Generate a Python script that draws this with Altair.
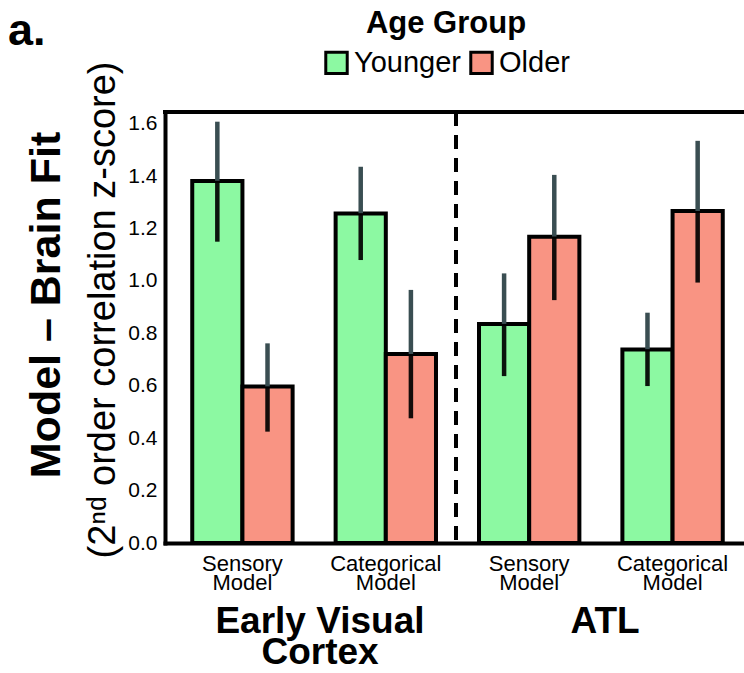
import altair as alt
import pandas as pd

# ---- data ----
regions = ["EVC", "EVC", "ATL", "ATL"]
models = ["Sensory", "Categorical", "Sensory", "Categorical"]
groups = ["Younger", "Older"]

younger_mean = [1.382, 1.258, 0.836, 0.739]
younger_lower = [1.150, 1.080, 0.637, 0.599]
younger_upper = [1.608, 1.436, 1.029, 0.879]

older_mean = [0.597, 0.721, 1.169, 1.267]
older_lower = [0.425, 0.476, 0.927, 0.994]
older_upper = [0.762, 0.966, 1.405, 1.535]

y_ticks = [0.0, 0.2, 0.4, 0.6, 0.8, 1.0, 1.2, 1.4, 1.6]
region_labels = ["Early Visual\nCortex", "ATL"]

GREEN = "#8cf9a2"
SALMON = "#f99483"
FONT = "Liberation Sans"

rows = []
for i in range(4):
    cat = f"{regions[i]}|{models[i]}"
    rows.append(dict(cat=cat, group="Younger", value=younger_mean[i],
                     lower=younger_lower[i], upper=younger_upper[i]))
    rows.append(dict(cat=cat, group="Older", value=older_mean[i],
                     lower=older_lower[i], upper=older_upper[i]))
df = pd.DataFrame(rows)
cats = [f"{r}|{m}" for r, m in zip(regions, models)]

W, H = 579, 431

x_enc = alt.X(
    "cat:N", sort=cats,
    scale=alt.Scale(domain=cats, range=[0, 585], paddingInner=0.3, paddingOuter=0.19),
    axis=alt.Axis(title=None, ticks=False, labelAngle=0,
                  labelExpr="[split(datum.value, '|')[1], 'Model']",
                  labelFontSize=22, labelFont=FONT, labelColor="black",
                  labelLineHeight=19, labelPadding=10,
                  domainColor="black", domainWidth=4, domainCap="square"),
)
xo = alt.XOffset("group:N", sort=groups, scale=alt.Scale(domain=groups))
y_scale = alt.Scale(domain=[0, 1.645], nice=False, zero=True)

base = alt.Chart(df)

bars = base.mark_bar(stroke="black", strokeWidth=4).encode(
    x=x_enc,
    xOffset=xo,
    y=alt.Y("value:Q", scale=y_scale,
            axis=alt.Axis(title=None, values=y_ticks, format=".1f", ticks=False,
                          grid=False, labelFontSize=21, labelFont=FONT,
                          labelColor="black", labelPadding=8,
                          domainColor="black", domainWidth=4, domainCap="square")),
    color=alt.Color("group:N", sort=groups,
                    scale=alt.Scale(domain=groups, range=[GREEN, SALMON]),
                    legend=alt.Legend(
                        title="Age Group", orient="none", direction="horizontal",
                        legendX=157, legendY=-103,
                        titleFontSize=31, titleFontWeight="bold", titleFont=FONT,
                        titleColor="black", titleAnchor="middle", titlePadding=8,
                        labelFontSize=29, labelFont=FONT, labelColor="black",
                        labelOffset=3, columnPadding=3,
                        symbolType="square", symbolSize=460,
                        symbolStrokeColor="black", symbolStrokeWidth=3,
                        symbolOpacity=1)),
)

err_up = base.mark_rule(strokeWidth=4.5, color="#3a4e52").encode(
    x=alt.X("cat:N", sort=cats), xOffset=xo,
    y=alt.Y("value:Q", scale=y_scale), y2="upper:Q",
)
err_low = base.mark_rule(strokeWidth=4.5, color="black", opacity=0.92).encode(
    x=alt.X("cat:N", sort=cats), xOffset=xo,
    y=alt.Y("lower:Q", scale=y_scale), y2="value:Q",
)

top_border = alt.Chart(pd.DataFrame({"a": [0]})).mark_rule(
    color="black", strokeWidth=4, strokeCap="square").encode(
    x=alt.value(0), x2=alt.value(620), y=alt.value(0))

divider = alt.Chart(pd.DataFrame({"a": [0]})).mark_rule(
    color="black", strokeWidth=4, strokeDash=[14, 9]).encode(
    x=alt.value(291), y=alt.value(0), y2=alt.value(H))

def label(text, x, y, size, weight="normal", angle=0, align="center",
          line_height=None):
    kw = dict(fontSize=size, fontWeight=weight, font=FONT, color="black",
              align=align, baseline="alphabetic", angle=angle)
    if line_height is not None:
        kw.update(lineBreak="\n", lineHeight=line_height)
    return alt.Chart(pd.DataFrame({"t": [text]})).mark_text(**kw).encode(
        text="t:N", x=alt.value(x), y=alt.value(y))

ytitle1 = label("Model – Brain Fit", -105, 193, 43, "bold", angle=270)
ytitle2 = label("(2ⁿᵈ order correlation z-score)", -50, 198, 38, angle=270)
reg1 = label(region_labels[0], 155, 521, 37, "bold", line_height=31)
reg2 = label(region_labels[1], 440, 521, 37, "bold", line_height=31)
panel = label("a.", -157, -67, 45, "bold", align="left")

chart = alt.layer(
    bars, err_up, err_low, divider, top_border,
    ytitle1, ytitle2, reg1, reg2, panel,
).properties(
    width=W, height=H,
    padding={"left": 165, "top": 112, "right": 0, "bottom": 130},
    autosize=alt.AutoSizeParams(type="none"),
    background="white",
).configure_view(stroke=None)

chart.save("out.html", embed_options={"renderer": "svg", "actions": False})
